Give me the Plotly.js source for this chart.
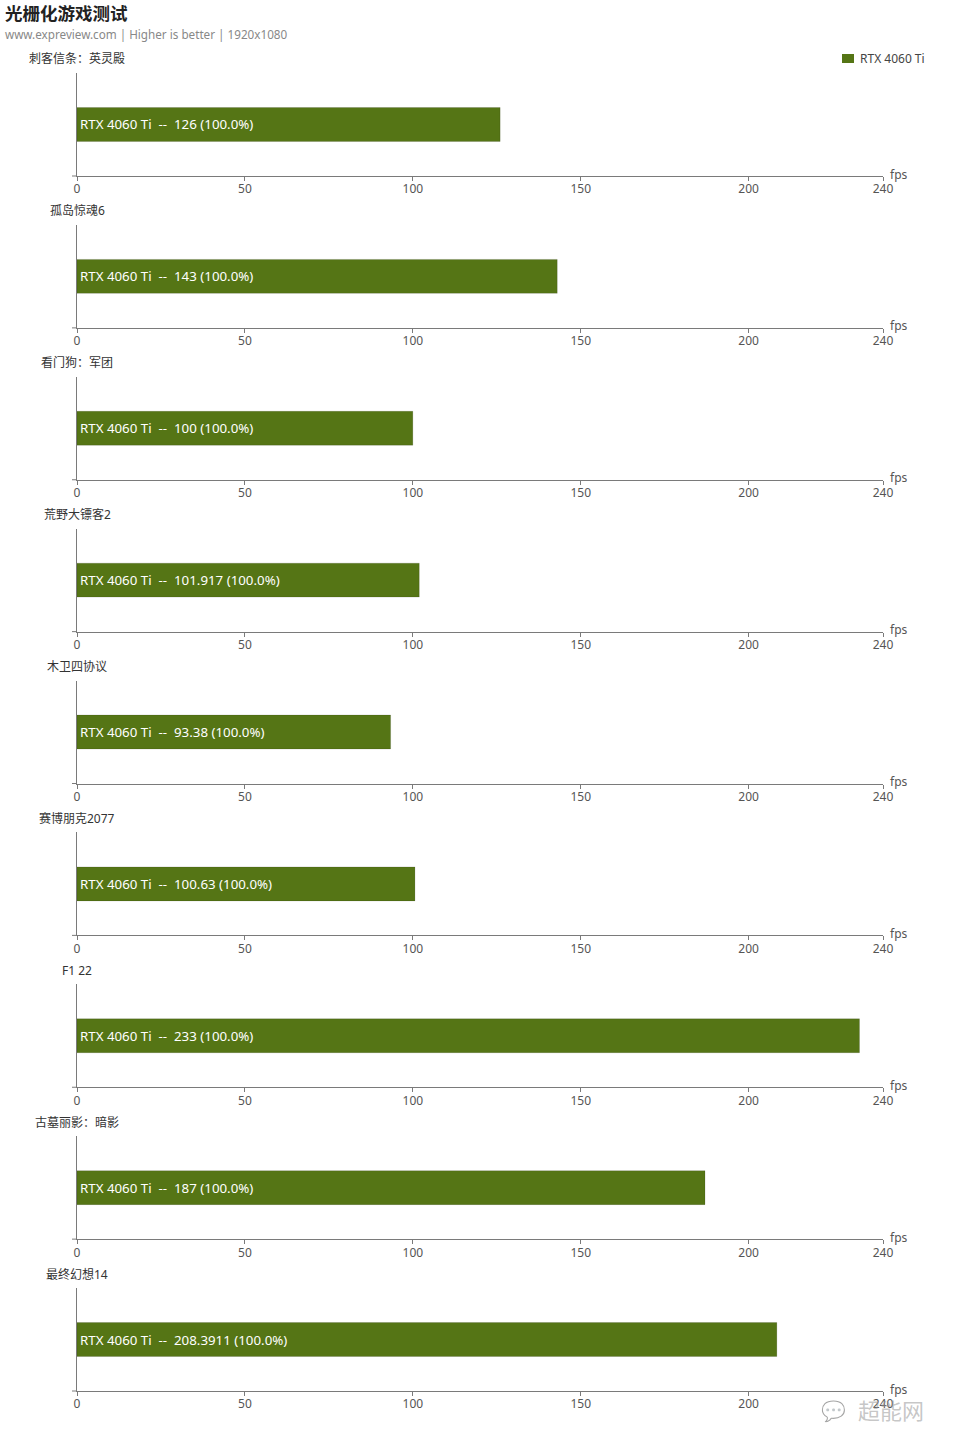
<!DOCTYPE html>
<html>
<head>
<meta charset="utf-8">
<script src="https://cdn.plot.ly/plotly-3.0.1.min.js"></script>
<style>
html,body{margin:0;padding:0;background:#fff;}
#chart{width:960px;height:1452px;}
</style>
</head>
<body>
<div id="chart"></div>
<script>
const games = ["刺客信条：英灵殿","孤岛惊魂6","看门狗：军团","荒野大镖客2","木卫四协议","赛博朋克2077","F1 22","古墓丽影：暗影","最终幻想14"];
const seriesName = "RTX 4060 Ti";
const fpsValues = [126, 143, 100, 101.917, 93.38, 100.63, 233, 187, 208.3911];
const percentLabels = ["100.0%","100.0%","100.0%","100.0%","100.0%","100.0%","100.0%","100.0%","100.0%"];
const tickVals = [0, 50, 100, 150, 200, 240];
const tickText = ["0","50","100","150","200","240"];

const W = 960, H = 1452;
const FONT = "Noto Sans, Noto Sans CJK SC, sans-serif";
const barColor = "#557515";
const axisColor = "#7a7a7a";
const x0px = 77, x1px = 883;
const axis0 = 176, step = 151.875, axisLen = 103;
const NB = "\u00a0";

const data = [];
const layout = {
  width: W, height: H,
  margin: {l:0, r:0, t:0, b:0},
  paper_bgcolor: "#fff", plot_bgcolor: "rgba(0,0,0,0)",
  showlegend: false,
  font: {family: FONT, size: 12, color: "#555"},
  annotations: [], shapes: []
};

games.forEach((g, i) => {
  const k = i === 0 ? "" : String(i + 1);
  const axPx = axis0 + step * i;
  const topPx = axPx - axisLen;
  data.push({
    type: "bar", orientation: "h",
    x: [fpsValues[i]], y: [0],
    xaxis: "x" + k, yaxis: "y" + k,
    width: 0.33,
    marker: {color: barColor, line: {color: "rgba(0,0,0,0.12)", width: 1}},
    text: [seriesName + NB + NB + "-" + "-" + NB + NB + fpsValues[i] + " (" + percentLabels[i] + ")"],
    textposition: "inside", insidetextanchor: "start",
    constraintext: "none",
    textfont: {color: "#ffffff", size: 13.3, family: FONT},
    hoverinfo: "skip", name: seriesName
  });
  layout["xaxis" + k] = {
    domain: [x0px / W, x1px / W], anchor: "y" + k,
    range: [0, 240], tickvals: tickVals, ticktext: tickText,
    ticks: "outside", ticklen: 4, tickcolor: axisColor,
    ticklabelstandoff: -2,
    showline: true, linecolor: axisColor, linewidth: 1,
    showgrid: false, zeroline: false, fixedrange: true,
    tickfont: {size: 12, color: "#555", family: FONT}
  };
  layout["yaxis" + k] = {
    domain: [1 - axPx / H, 1 - topPx / H], anchor: "x" + k,
    range: [-0.5, 0.5], showticklabels: false, ticks: "",
    showline: true, linecolor: axisColor, linewidth: 1,
    showgrid: false, zeroline: false, fixedrange: true
  };
  layout.shapes.push({type: "line", xref: "paper", yref: "paper",
    x0: (x0px - 5) / W, x1: x0px / W, y0: 1 - axPx / H, y1: 1 - axPx / H,
    line: {color: axisColor, width: 1}});
  layout.annotations.push({
    text: g, xref: "paper", yref: "paper", x: x0px / W, y: 1 - (topPx - 14) / H,
    xanchor: "center", yanchor: "middle", showarrow: false,
    font: {size: 12, color: "#333", family: FONT}
  });
  layout.annotations.push({
    text: "fps", xref: "paper", yref: "paper", x: 888 / W, y: 1 - (axPx - 2) / H,
    xanchor: "left", yanchor: "middle", showarrow: false,
    font: {size: 12, color: "#555", family: FONT}
  });
});

layout.annotations.push({
  text: "<b>光栅化游戏测试</b>", xref: "paper", yref: "paper", x: 3 / W, y: 1 - 13 / H,
  xanchor: "left", yanchor: "middle", showarrow: false,
  font: {size: 17.5, color: "#222", family: FONT}
});
layout.annotations.push({
  text: "www.expreview.com | Higher is better | 1920x1080", xref: "paper", yref: "paper",
  x: 3 / W, y: 1 - 34 / H, xanchor: "left", yanchor: "middle", showarrow: false,
  font: {size: 11.7, color: "#888", family: FONT}
});
// legend
layout.shapes.push({type: "rect", xref: "paper", yref: "paper",
  x0: 842 / W, x1: 854 / W, y0: 1 - 63 / H, y1: 1 - 54 / H,
  fillcolor: barColor, line: {width: 0}});
layout.annotations.push({
  text: seriesName, xref: "paper", yref: "paper", x: 858 / W, y: 1 - 58 / H,
  xanchor: "left", yanchor: "middle", showarrow: false,
  font: {size: 12, color: "#444", family: FONT}
});
// watermark
layout.annotations.push({
  text: "超能网", xref: "paper", yref: "paper", x: 856 / W, y: 1 - 1410 / H,
  xanchor: "left", yanchor: "middle", showarrow: false,
  font: {size: 22, color: "rgba(150,150,150,0.55)", family: FONT}
});
layout.annotations.push({
  text: "💬", xref: "paper", yref: "paper", x: 833 / W, y: 1 - 1410 / H,
  xanchor: "center", yanchor: "middle", showarrow: false, opacity: 0.35,
  font: {size: 20, color: "#aaa", family: FONT}
});

Plotly.newPlot("chart", data, layout, {displayModeBar: false, staticPlot: true});
</script>
</body>
</html>
